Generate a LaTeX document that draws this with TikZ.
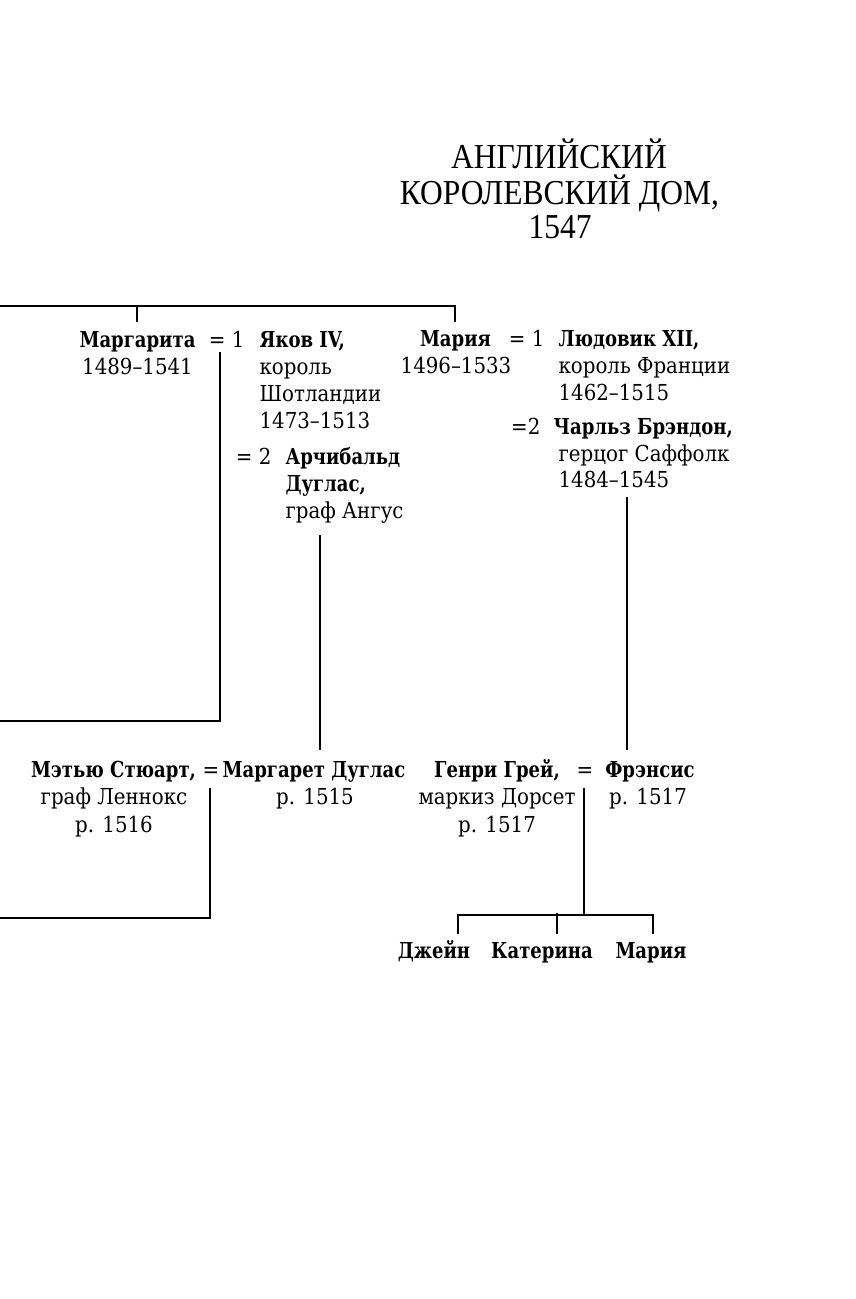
\documentclass[tikz,border=0pt]{standalone}
\usepackage{fontspec}
\setmainfont{DejaVu Serif}[FakeStretch=0.9,BoldFeatures={FakeStretch=0.82}]
\newfontfamily\titlefont{Liberation Serif}[FakeStretch=0.9]
\begin{document}
\begin{tikzpicture}[x=1pt,y=-1pt,line width=1.2pt,
  txt/.style={inner sep=0pt,font=\fontsize{22}{27}\selectfont},
  nm/.style={inner sep=0pt,font=\fontsize{22}{27}\selectfont\bfseries},
  ttl/.style={inner sep=0pt,font=\titlefont\fontsize{35}{36}\selectfont}]
\useasboundingbox (0,0) rectangle (856,1299);
% title
\node[ttl,anchor=base] (t1) at (559,168) {АНГЛИЙСКИЙ};
\node[ttl,anchor=base] (t2) at (559.5,204) {КОРОЛЕВСКИЙ ДОМ,};
\node[ttl,anchor=base] (t3) at (560,238) {1547};
% generation 1
\node[nm,anchor=base] (marg) at (137.5,347) {Маргарита};
\node[txt,anchor=base] (margd) at (137.5,374) {1489–1541};
\node[txt,anchor=base east] (eqa) at (245,347) {= 1};
\node[nm,anchor=base west] (yak) at (259,347) {Яков IV,};
\node[txt,anchor=base west] (yak2) at (259,374) {король};
\node[txt,anchor=base west] (yak3) at (259,401) {Шотландии};
\node[txt,anchor=base west] (yak4) at (259,428) {1473–1513};
\node[txt,anchor=base east] (eqb) at (272,464) {= 2};
\node[nm,anchor=base west] (arch) at (285,464) {Арчибальд};
\node[nm,anchor=base west] (arch2) at (285,491) {Дуглас,};
\node[txt,anchor=base west] (arch3) at (285,518) {граф Ангус};
\node[nm,anchor=base] (mar) at (455.5,346) {Мария};
\node[txt,anchor=base] (mard) at (456,373) {1496–1533};
\node[txt,anchor=base east] (eqc) at (545,346) {= 1};
\node[nm,anchor=base west] (lud) at (558,346) {Людовик XII,};
\node[txt,anchor=base west] (lud2) at (558,373) {король Франции};
\node[txt,anchor=base west] (lud3) at (558,400) {1462–1515};
\node[txt,anchor=base east] (eqd) at (541,434) {=2};
\node[nm,anchor=base west] (cha) at (553,434) {Чарльз Брэндон,};
\node[txt,anchor=base west] (cha2) at (558,461) {герцог Саффолк};
\node[txt,anchor=base west] (cha3) at (558,487) {1484–1545};
% generation 2
\node[nm,anchor=base] (mat) at (113.5,777) {Мэтью Стюарт,};
\node[txt,anchor=base] (mat2) at (114,804) {граф Леннокс};
\node[txt,anchor=base] (mat3) at (114,832) {р. 1516};
\node[txt,anchor=base] (eqe) at (211,777) {=};
\node[nm,anchor=base] (mgd) at (314,777) {Маргарет Дуглас};
\node[txt,anchor=base] (mgd2) at (315,804) {р. 1515};
\node[nm,anchor=base] (hen) at (497,777) {Генри Грей,};
\node[txt,anchor=base] (hen2) at (497,804) {маркиз Дорсет};
\node[txt,anchor=base] (hen3) at (497,832) {р. 1517};
\node[txt,anchor=base] (eqf) at (585,777) {=};
\node[nm,anchor=base] (fra) at (650,777) {Фрэнсис};
\node[txt,anchor=base] (fra2) at (648,804) {р. 1517};
% generation 3
\node[nm,anchor=base] (jan) at (434,958) {Джейн};
\node[nm,anchor=base] (kat) at (542,958) {Катерина};
\node[nm,anchor=base] (mar3) at (651,958) {Мария};
% connectors
\coordinate (L0) at (0,306);
\coordinate (La) at (137,306);
\coordinate (Lb) at (455,306);
\draw (L0) -- (Lb) -- (455,322);
\draw (La) -- (137,322);
\draw (220,352) -- (220,721) -- (0,721);
\draw (320,535) -- (320,750);
\draw (627,497) -- (627,750);
\draw (210,788) -- (210,918) -- (0,918);
\draw (584,788) -- (584,915);
\draw (458,934) -- (458,915) -- (653,915) -- (653,934);
\draw (557,913) -- (557,934);
\end{tikzpicture}
\end{document}
